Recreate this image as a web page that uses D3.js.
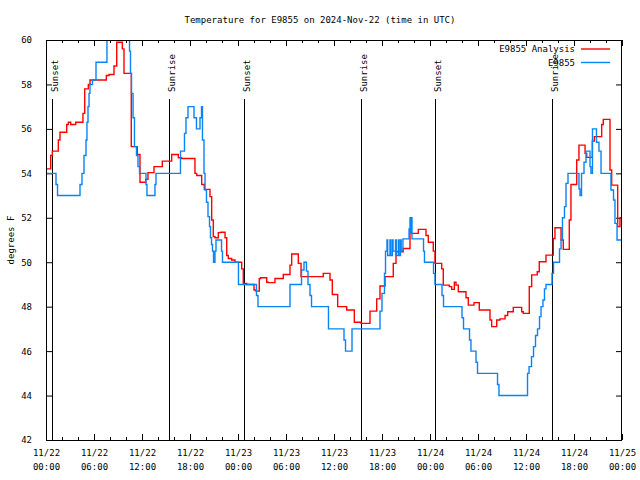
<!DOCTYPE html>
<html>
<head>
<meta charset="utf-8">
<script src="https://cdn.jsdelivr.net/npm/d3@7"></script>
<style>
html,body{margin:0;padding:0;background:#fff;}
svg{display:block;}
text{font-family:"DejaVu Sans Mono","Liberation Mono",monospace;font-size:9px;fill:#000;}
</style>
</head>
<body>
<svg id="chart" width="640" height="480"></svg>
<script>
// ---- data (hours since 2024-11-22 00:00 UTC, temperature in °F) ----
const obsTimes = [0,1.25,1.44,4.25,4.5,4.75,5.0,5.12,5.25,5.38,5.5,5.81,6.25,7.62,10.44,10.56,10.69,10.88,11.06,11.31,11.5,11.69,12.5,12.62,13.62,13.75,16.81,17.31,17.5,17.75,18.5,18.81,19.25,19.44,19.56,19.75,19.88,20.06,20.25,20.44,20.56,20.69,20.81,20.94,21.12,21.25,21.94,22.06,24.06,26.31,26.5,30.5,31.94,32.25,32.56,32.75,33.0,33.19,35.31,37.25,37.44,38.25,41.75,42.0,42.31,42.44,42.62,42.71,43.0,43.09,43.29,43.38,43.69,43.78,44.04,44.12,44.31,44.4,44.62,45.38,45.5,45.56,45.69,45.75,47.19,47.31,48.44,48.62,49.5,49.69,52.0,52.19,52.94,53.12,53.75,53.94,56.44,56.62,60.19,60.38,60.69,60.94,61.19,61.44,61.69,61.88,62.12,62.31,62.5,63.25,63.44,64.19,64.38,64.56,64.81,65.0,65.25,66.62,66.75,66.94,67.25,67.5,68.0,68.12,68.31,68.81,69.12,69.38,70.62,70.94,71.12,71.38,72];
const obsTemps = [54.0,53.5,53.0,53.5,54.0,54.8,55.5,56.3,57.0,57.6,58.0,58.2,59.0,61.0,59.5,58.5,57.6,56.5,55.2,54.8,54.3,54.0,53.5,53.0,53.5,54.0,55.0,55.8,56.5,57.0,56.5,56.0,56.5,57.0,55.5,54.0,53.25,52.7,52.05,51.6,51.1,50.8,50.5,50.0,50.5,51.0,50.5,50.0,49.0,48.5,48.0,49.0,49.65,50.0,49.6,49.0,48.5,48.0,47.0,46.5,46.0,47.0,47.8,48.6,49.5,50.5,51.0,50.3,51.0,50.3,51.0,50.5,51.0,50.3,51.0,50.3,51.0,50.5,51.05,51.5,52.0,51.3,52.0,51.05,50.5,50.0,49.5,49.0,48.5,48.0,47.5,47.0,46.5,46.0,45.5,45.0,44.5,44.0,45.0,45.3,45.75,46.2,46.7,47.0,47.55,48.0,48.3,48.8,49.0,49.5,50.0,50.6,51.0,52.0,52.5,53.55,54.0,53.3,53.0,54.0,54.5,55.0,54.3,54.0,56.0,55.4,55.0,54.0,53.25,52.8,51.75,51.0,51.0];

const anaTimes = [0,0.59,0.79,1.54,1.75,2.59,2.79,3.09,3.71,4.62,4.84,5.29,5.5,7.54,7.88,8.5,8.84,9.54,9.75,10.66,11.41,11.75,12.46,12.75,13.5,14.54,15.71,16.54,16.96,18.62,18.84,19.46,19.79,20.5,20.71,20.91,21.12,21.54,21.84,22.38,22.59,22.79,23.21,23.62,24.46,24.66,25.09,26.0,26.25,26.66,26.84,27.59,27.79,28.62,29.66,30.5,30.71,31.54,31.88,34.66,35.5,35.79,36.46,37.59,38.54,39.38,40.5,41.34,41.75,42.38,43.41,43.75,44.66,45.5,46.54,47.5,47.79,48.41,48.62,49.46,49.66,50.41,50.71,51.04,51.25,51.54,52.5,52.79,53.5,54.16,55.5,55.71,56.34,56.75,57.38,57.71,58.41,59.46,59.66,60.41,60.71,61.41,61.66,62.5,63.41,63.62,64.38,64.66,65.41,65.62,66.34,66.62,67.38,67.59,68.29,68.54,69.46,69.66,70.5,70.71,71.46,71.75,72];
const anaTemps = [54.2,54.8,55.0,55.5,55.85,56.2,56.3,56.2,56.3,56.7,57.8,58.0,58.2,58.4,58.45,58.83,59.9,59.6,58.5,55.2,54.85,53.6,53.73,54.03,54.3,54.55,54.85,54.7,54.67,54.0,53.9,53.5,53.28,52.95,51.9,51.15,51.1,51.33,51.35,51.1,50.3,50.17,50.1,50.0,49.7,49.05,49.0,48.75,48.7,49.27,49.3,49.1,49.08,49.27,49.45,49.87,50.37,49.95,49.35,49.5,49.2,48.55,48.0,47.85,47.3,47.25,47.8,48.35,48.93,49.35,49.95,50.47,50.62,51.3,51.48,51.2,50.9,50.5,49.95,49.7,48.97,48.9,48.78,49.1,48.97,48.67,48.4,48.07,48.18,47.85,47.4,47.1,47.4,47.45,47.6,47.77,47.97,47.77,47.7,48.9,49.43,49.57,50.02,50.32,51.07,51.55,51.0,50.58,51.9,53.5,54.6,55.27,54.9,54.72,55.45,55.65,56.2,56.43,54.15,53.47,51.6,52.0,52.0];

const eventLabels = ["Sunset","Sunrise","Sunset","Sunrise","Sunset","Sunrise"];
const eventHours  = [0.79, 15.41, 24.79, 39.34, 48.66, 63.29];

const xTickHours  = [0,6,12,18,24,30,36,42,48,54,60,66,72];
const xTickDates  = ["11/22","11/22","11/22","11/22","11/23","11/23","11/23","11/23","11/24","11/24","11/24","11/24","11/25"];
const xTickClock  = ["00:00","06:00","12:00","18:00","00:00","06:00","12:00","18:00","00:00","06:00","12:00","18:00","00:00"];
const xMinorHours = d3.range(0, 73, 2);
const yTicks = [42,44,46,48,50,52,54,56,58,60];

const seriesNames = ["E9855 Analysis","E9855"];
const seriesColors = ["#ff0000","#0a84f2"];

// ---- drawing ----
const svg = d3.select("#chart");
const L = 46, R = 622, T = 40, B = 440;
const x = d3.scaleLinear().domain([0,72]).range([L,R]);
const y = d3.scaleLinear().domain([42,60]).range([B,T]);

svg.append("text").attr("x",320).attr("y",23).attr("text-anchor","middle")
  .text("Temperature for E9855 on 2024-Nov-22 (time in UTC)");

svg.append("text").attr("transform","translate(14,240) rotate(-90)")
  .attr("text-anchor","middle").text("degrees F");

svg.append("defs").append("clipPath").attr("id","clip")
  .append("rect").attr("x",L).attr("y",T).attr("width",R-L).attr("height",B-T);

// sunrise / sunset markers
eventHours.forEach((h,i)=>{
  const px = Math.round(x(h))+0.5;
  svg.append("line").attr("x1",px).attr("x2",px).attr("y1",99).attr("y2",B)
    .attr("stroke","#000").attr("stroke-width",1);
  svg.append("text").attr("transform",`translate(${px+5},92) rotate(-90)`)
    .attr("text-anchor","start").text(eventLabels[i]);
});

// axes
function styleAxis(g){ g.select(".domain").remove(); g.selectAll("line").attr("stroke","#000"); }
svg.append("g").attr("transform",`translate(0,${B})`)
  .call(d3.axisBottom(x).tickValues(xMinorHours).tickSize(-3).tickFormat(""))
  .call(styleAxis);
svg.append("g").attr("transform",`translate(0,${T})`)
  .call(d3.axisTop(x).tickValues(xMinorHours).tickSize(-3).tickFormat(""))
  .call(styleAxis);
svg.append("g").attr("transform",`translate(0,${T})`)
  .call(d3.axisTop(x).tickValues(xTickHours).tickSize(-6).tickFormat(""))
  .call(styleAxis);
const xb = svg.append("g").attr("transform",`translate(0,${B})`)
  .call(d3.axisBottom(x).tickValues(xTickHours).tickSize(-6).tickFormat(""))
  .call(styleAxis);
xb.selectAll(".tick").each(function(d,i){
  const t = d3.select(this).append("text").attr("text-anchor","middle")
    .style("font-family",'"DejaVu Sans Mono","Liberation Mono",monospace').style("font-size","9px").attr("fill","#000");
  t.append("tspan").attr("x",0).attr("y",16).text(xTickDates[i]);
  t.append("tspan").attr("x",0).attr("y",30).text(xTickClock[i]);
});
const yl = svg.append("g").attr("transform",`translate(${L},0)`)
  .call(d3.axisLeft(y).tickValues(yTicks).tickSize(-6).tickPadding(14).tickFormat(d3.format("d")))
  .call(styleAxis);
yl.selectAll("text").style("font-family",'"DejaVu Sans Mono","Liberation Mono",monospace').style("font-size","9px").attr("fill","#000");
svg.append("g").attr("transform",`translate(${R},0)`)
  .call(d3.axisRight(y).tickValues(yTicks).tickSize(-6).tickFormat(""))
  .call(styleAxis);

// series
const anaData = anaTimes.map((t,i)=>({t, v: anaTemps[i]}));
const obsData = obsTimes.map((t,i)=>({t, v: obsTemps[i]}));
const line = d3.line().x(d=>x(d.t)).y(d=>y(d.v)).curve(d3.curveStepAfter);
const plot = svg.append("g").attr("clip-path","url(#clip)");
[anaData, obsData].forEach((data,i)=>{
  plot.append("path").datum(data).attr("d",line).attr("fill","none")
    .attr("stroke",seriesColors[i]).attr("stroke-width",1.4).attr("stroke-linejoin","miter");
});

// border
svg.append("rect").attr("x",L+0.5).attr("y",T+0.5).attr("width",R-L-1).attr("height",B-T)
  .attr("fill","none").attr("stroke","#000").attr("stroke-width",1);

// legend
seriesNames.forEach((name,i)=>{
  const ly = 49 + i*13.5;
  svg.append("text").attr("x",575).attr("y",ly+3).attr("text-anchor","end").text(name);
  svg.append("line").attr("x1",581).attr("x2",610).attr("y1",ly).attr("y2",ly)
    .attr("stroke",seriesColors[i]).attr("stroke-width",1.4);
});
</script>
</body>
</html>
